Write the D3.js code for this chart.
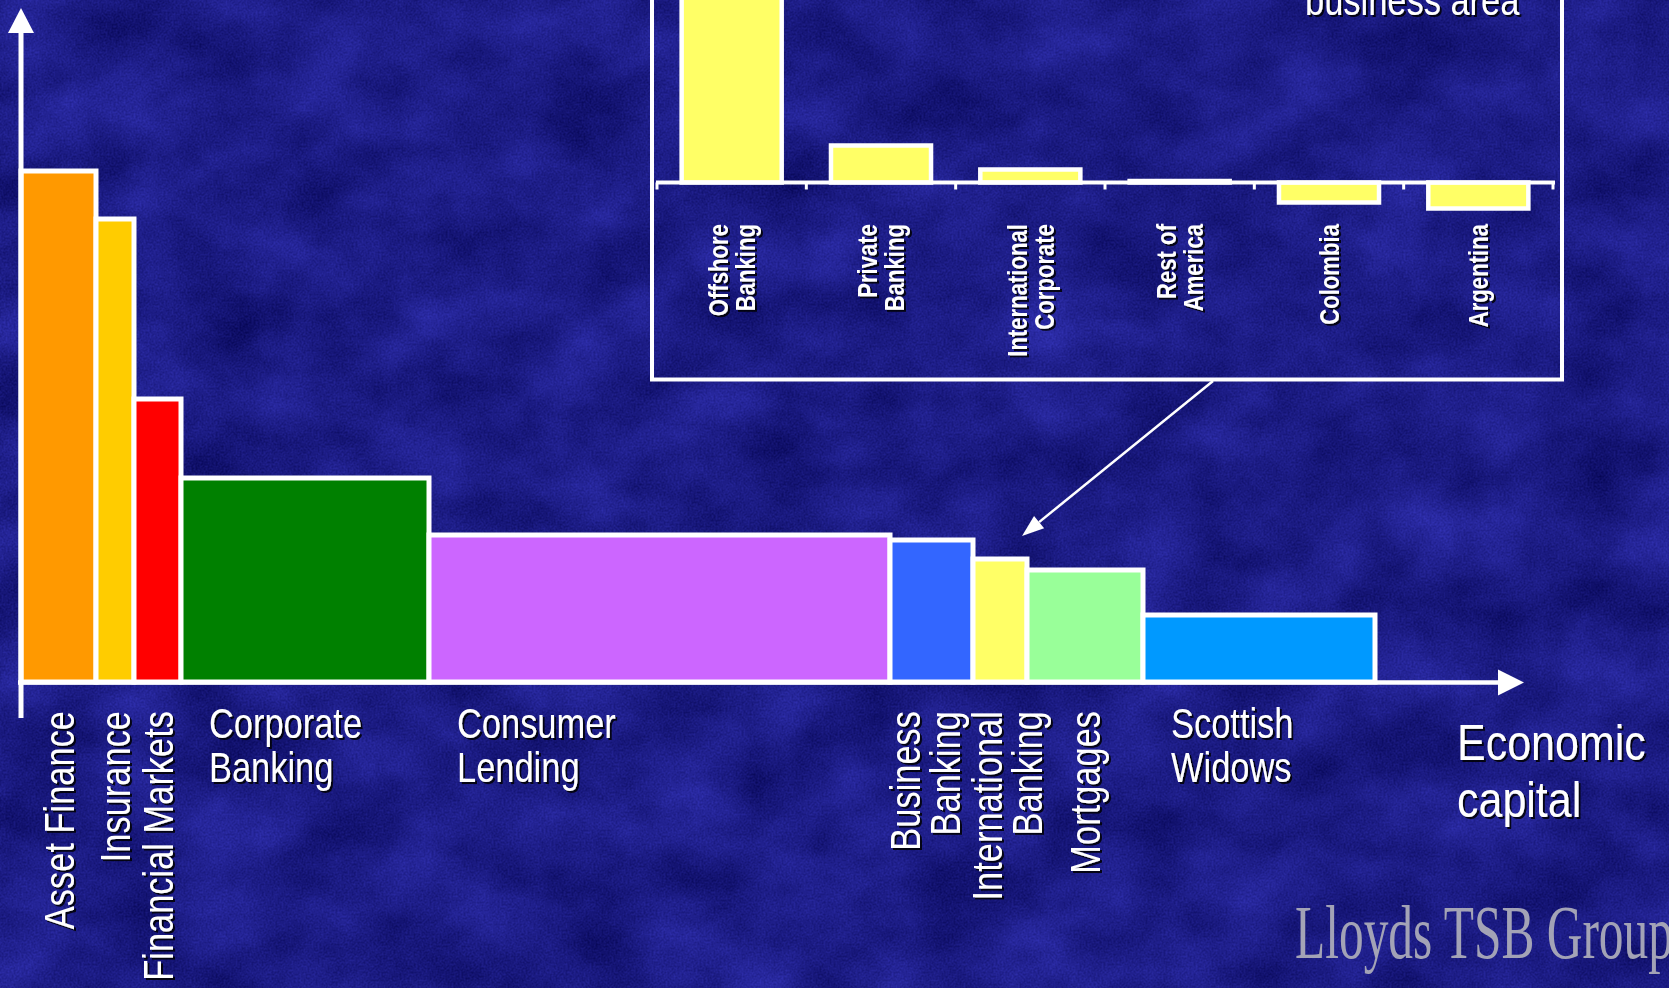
<!DOCTYPE html>
<html>
<head>
<meta charset="utf-8">
<script src="https://cdn.jsdelivr.net/npm/d3@7"></script>
<style>
  html, body { margin: 0; padding: 0; background: #1c1c8a; overflow: hidden; }
  svg { display: block; }
</style>
</head>
<body>
<svg id="chart" width="1669" height="988"></svg>
<script>
// Business units: bar width = economic capital, bar height = return on that capital
const categories = ["Asset Finance", "Insurance", "Financial Markets", "Corporate\nBanking",
  "Consumer\nLending", "Business\nBanking", "International\nBanking", "Mortgages", "Scottish\nWidows"];
const economicCapital = [7.5, 3.8, 4.7, 24.8, 46.1, 8.3, 5.4, 11.6, 23.2];
const returnOnCapital = [51.1, 46.3, 28.3, 20.4, 14.7, 14.2, 12.3, 11.2, 6.7];
const barColors = ["#ff9900", "#ffcc00", "#ff0000", "#008000", "#cc66ff",
  "#3366ff", "#ffff66", "#99ff99", "#0099ff"];

// International Banking split by business area
const insetCategories = ["Offshore\nBanking", "Private\nBanking", "International\nCorporate",
  "Rest of\nAmerica", "Colombia", "Argentina"];
const insetValues = [23.0, 3.7, 1.3, 0.15, -2.0, -2.6];

const axisTitle = ["Economic", "capital"];
const insetTitle = "business area";
const footer = "Lloyds TSB Group";

// small sideways nudges (px) for the crowded rotated labels
const labelNudge = { "Business\nBanking": -7, "International\nBanking": 7 };

const W = 1669, H = 988;
const svg = d3.select("#chart");
const defs = svg.append("defs");

// mottled blue backdrop
const paper = defs.append("filter").attr("id", "paper")
  .attr("x", 0).attr("y", 0).attr("width", "100%").attr("height", "100%")
  .attr("color-interpolation-filters", "sRGB");
paper.append("feTurbulence").attr("type", "fractalNoise").attr("baseFrequency", "0.011 0.014")
  .attr("numOctaves", 5).attr("seed", 11).attr("result", "coarse");
paper.append("feColorMatrix").attr("in", "coarse").attr("type", "matrix")
  .attr("values", "1 0 0 0 0  1 0 0 0 0  1 0 0 0 0  0 0 0 0 1").attr("result", "c1");
paper.append("feTurbulence").attr("type", "fractalNoise").attr("baseFrequency", "0.5")
  .attr("numOctaves", 2).attr("seed", 4).attr("result", "fine");
paper.append("feColorMatrix").attr("in", "fine").attr("type", "matrix")
  .attr("values", "1 0 0 0 0  1 0 0 0 0  1 0 0 0 0  0 0 0 0 1").attr("result", "f1");
paper.append("feComposite").attr("in", "c1").attr("in2", "f1").attr("operator", "arithmetic")
  .attr("k1", 0).attr("k2", 0.6).attr("k3", 0.4).attr("k4", 0).attr("result", "mix");
paper.append("feColorMatrix").attr("in", "mix").attr("type", "matrix")
  .attr("values", "0.24 0 0 0 -0.01  0.24 0 0 0 -0.01  0.52 0 0 0 0.26  0 0 0 0 1");

// dark drop shadow under the white lettering
const shadow = defs.append("filter").attr("id", "shadow")
  .attr("x", "-20%").attr("y", "-20%").attr("width", "140%").attr("height", "140%");
shadow.append("feDropShadow").attr("dx", 2).attr("dy", 2).attr("stdDeviation", 0.6)
  .attr("flood-color", "#000").attr("flood-opacity", 0.85);

const soft = defs.append("filter").attr("id", "soft");
soft.append("feGaussianBlur").attr("stdDeviation", 0.7);

svg.append("rect").attr("width", W).attr("height", H).attr("filter", "url(#paper)");

// Arial-metric face, squeezed horizontally to a narrow cut
const labelFont = "'Liberation Sans', Arial, sans-serif";
const SQ = 0.82;

// ---------- main chart ----------
const x = d3.scaleLinear().domain([0, 150.3]).range([21, 1524]);
const y = d3.scaleLinear().domain([0, 67.4]).range([682, 8]);

const starts = [0, ...d3.cumsum(economicCapital)];
const units = categories.map((name, i) => ({
  name, color: barColors[i], value: returnOnCapital[i],
  x0: starts[i], x1: starts[i] + economicCapital[i]
}));

svg.append("g").selectAll("rect").data(units).join("rect")
  .attr("x", d => x(d.x0))
  .attr("y", d => y(d.value))
  .attr("width", d => x(d.x1) - x(d.x0))
  .attr("height", d => y(0) - y(d.value))
  .attr("fill", d => d.color)
  .attr("stroke", "#fff")
  .attr("stroke-width", 5);

// axes with arrowheads
const axes = svg.append("g").attr("fill", "#fff").attr("stroke", "#fff");
axes.append("line").attr("x1", x(0)).attr("x2", x(0)).attr("y1", 718).attr("y2", y(67.4) + 22)
  .attr("stroke-width", 5);
axes.append("path").attr("stroke", "none")
  .attr("d", `M${x(0)},${y(67.4)} L${x(0) + 13},${y(67.4) + 25} L${x(0) - 13},${y(67.4) + 25} Z`);
axes.append("line").attr("x1", x(0) - 3).attr("x2", x(150.3) - 24).attr("y1", y(0) + 0.5).attr("y2", y(0) + 0.5)
  .attr("stroke-width", 4.5);
axes.append("path").attr("stroke", "none")
  .attr("d", `M${x(150.3)},${y(0) + 0.5} L${x(150.3) - 26},${y(0) + 13.5} L${x(150.3) - 26},${y(0) - 12.5} Z`);

// category labels: upright text for wide bars, rotated text for narrow ones
const FS = 42, LS = 40, CAP = 30;
const labels = svg.append("g").attr("fill", "#fff").attr("font-family", labelFont).attr("font-size", FS);
units.forEach(d => {
  const lines = d.name.split("\n");
  const wpx = x(d.x1) - x(d.x0);
  if (wpx < 150) {
    const cx = (x(d.x0) + x(d.x1)) / 2 + (labelNudge[d.name] || 0);
    const b1 = lines.length === 1 ? cx + CAP / 2 : cx - (LS - CAP) / 2;
    lines.forEach((t, i) => {
      labels.append("g").attr("filter", "url(#shadow)")
        .append("text")
        .attr("transform", `translate(${b1 + i * LS},711) rotate(-90) scale(${SQ},1)`)
        .attr("text-anchor", "end")
        .text(t);
    });
  } else {
    lines.forEach((t, i) => {
      labels.append("g").attr("filter", "url(#shadow)")
        .append("text")
        .attr("transform", `translate(${x(d.x0) + 28},${738 + i * 44}) scale(${SQ},1)`)
        .text(t);
    });
  }
});

// x-axis title
const title = svg.append("g").attr("fill", "#fff").attr("font-family", labelFont)
  .attr("font-size", 50).attr("filter", "url(#shadow)");
axisTitle.forEach((t, i) => title.append("text")
  .attr("transform", `translate(1457,${760 + i * 57}) scale(0.86,1)`).text(t));

// ---------- inset: International Banking by business area ----------
const band = d3.scaleBand().domain(insetCategories).range([657, 1553]);
const iy = d3.scaleLinear().domain([0, 10]).range([182.5, 82.5]);

const inset = svg.append("g");
inset.append("rect").attr("x", 652).attr("y", -20).attr("width", 910).attr("height", 399.5)
  .attr("fill", "none").attr("stroke", "#fff").attr("stroke-width", 4);

inset.append("g").attr("filter", "url(#shadow)").append("text")
  .attr("transform", `translate(1305,15) scale(${SQ},1)`).attr("fill", "#fff")
  .attr("font-family", labelFont).attr("font-size", 42)
  .text(insetTitle);

inset.append("g").selectAll("rect").data(insetCategories).join("rect")
  .attr("x", c => band(c) + band.bandwidth() * 0.165)
  .attr("width", band.bandwidth() * 0.67)
  .attr("y", (c, i) => Math.min(iy(insetValues[i]), iy(0)))
  .attr("height", (c, i) => Math.abs(iy(insetValues[i]) - iy(0)))
  .attr("fill", "#ffff66")
  .attr("stroke", "#fff")
  .attr("stroke-width", 4.5);

inset.append("line").attr("x1", band.range()[0] - 1).attr("x2", band.range()[1] + 2)
  .attr("y1", iy(0)).attr("y2", iy(0)).attr("stroke", "#fff").attr("stroke-width", 4);
inset.append("g").selectAll("line").data(d3.range(insetCategories.length + 1)).join("line")
  .attr("x1", i => band.range()[0] + i * band.step())
  .attr("x2", i => band.range()[0] + i * band.step())
  .attr("y1", iy(0)).attr("y2", iy(0) + 7)
  .attr("stroke", "#fff").attr("stroke-width", 3);

const IFS = 27, ILS = 27, ICAP = 19.5;
const insetLabels = inset.append("g").attr("fill", "#fff").attr("font-family", labelFont)
  .attr("font-size", IFS).attr("font-weight", "bold");
insetCategories.forEach(c => {
  const lines = c.split("\n");
  const cx = band(c) + band.bandwidth() / 2;
  const b1 = lines.length === 1 ? cx + ICAP / 2 : cx - (ILS - ICAP) / 2;
  lines.forEach((t, i) => {
    insetLabels.append("g").attr("filter", "url(#shadow)")
      .append("text")
      .attr("transform", `translate(${b1 + i * ILS},224) rotate(-90) scale(${SQ},1)`)
      .attr("text-anchor", "end")
      .text(t);
  });
});

// pointer from the inset to the International Banking bar
const ib = units[6];
const tip = [x(ib.x0) + 49, y(ib.value) - 23];
const from = [1213, 381];
const ang = Math.atan2(tip[1] - from[1], tip[0] - from[0]);
const back = 22, half = 8;
const bx = tip[0] - back * Math.cos(ang), by = tip[1] - back * Math.sin(ang);
svg.append("line").attr("x1", from[0]).attr("y1", from[1]).attr("x2", bx).attr("y2", by)
  .attr("stroke", "#fff").attr("stroke-width", 2.5);
svg.append("path").attr("fill", "#fff")
  .attr("d", `M${tip[0]},${tip[1]} L${bx + half * Math.sin(ang)},${by - half * Math.cos(ang)} L${bx - half * Math.sin(ang)},${by + half * Math.cos(ang)} Z`);

// footer logotype
svg.append("text").attr("x", 1295).attr("y", 958)
  .attr("font-family", "'Liberation Serif', 'Times New Roman', serif")
  .attr("font-size", 76).attr("textLength", 378).attr("lengthAdjust", "spacingAndGlyphs")
  .attr("fill", "#a3a3b6").attr("filter", "url(#soft)")
  .text(footer);
</script>
</body>
</html>
